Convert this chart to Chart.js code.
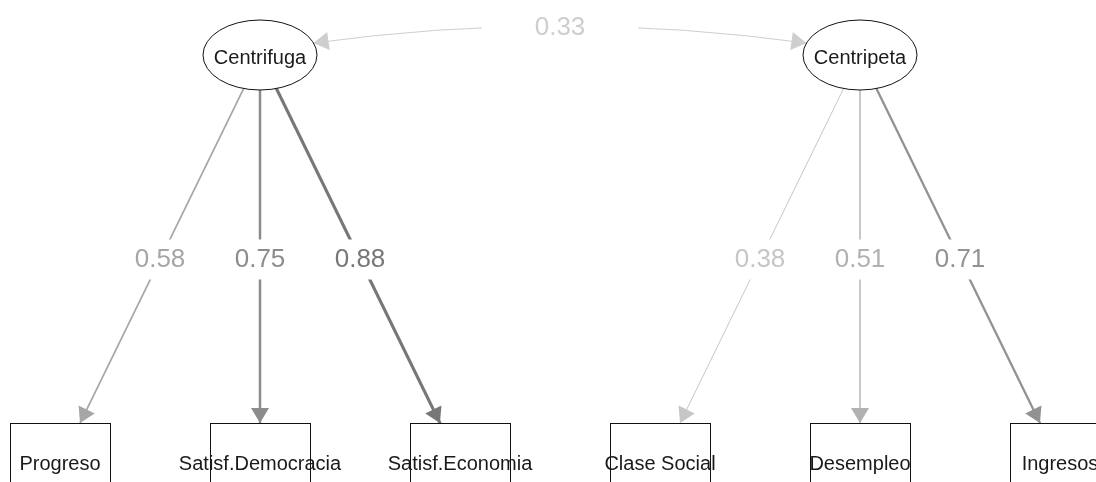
<!DOCTYPE html>
<html>
<head>
<meta charset="utf-8">
<script src="https://cdn.jsdelivr.net/npm/chart.js@4"></script>
<style>
  html, body { margin: 0; padding: 0; background: #fff; }
  canvas { display: block; }
</style>
</head>
<body>
<canvas id="semChart" width="1096" height="482"></canvas>
<script>
const latentNames = ['Centrifuga', 'Centripeta'];
const indicatorNames = ['Progreso', 'Satisf.Democracia', 'Satisf.Economia', 'Clase Social', 'Desempleo', 'Ingresos'];
const indicatorFactor = [0, 0, 0, 1, 1, 1];
const loadings = [0.58, 0.75, 0.88, 0.38, 0.51, 0.71];
const factorCovariance = 0.33;

// layout: indicators sit in slots along the bottom row, each factor above the middle of its own indicators
const indicatorX = indicatorNames.map((_, i) => i);
const latentX = latentNames.map((_, f) => {
  const xs = indicatorX.filter((_, i) => indicatorFactor[i] === f);
  return xs.reduce((a, b) => a + b, 0) / xs.length;
});
const LATENT_ROW = 0;
const INDICATOR_ROW = 1;

// stronger paths are darker and thicker
function edgeGrey(v) { const g = Math.round(258 - 158 * v); return 'rgb(' + g + ',' + g + ',' + g + ')'; }
function edgeWidth(v) { return Math.max(1, 4.5 * v - 0.9); }

const ELLIPSE_RX = 57, ELLIPSE_RY = 35;
const BOX_W = 100, BOX_H = 82;
const HEAD_LEN = 15, HEAD_HALF = 9;
const VALUE_FONT = '26px "Liberation Sans", Arial, sans-serif';
const NODE_FONT = '20px "Liberation Sans", Arial, sans-serif';

const datasets = loadings.map((v, i) => ({
  label: indicatorNames[i],
  data: [
    { x: latentX[indicatorFactor[i]], y: LATENT_ROW },
    { x: indicatorX[i], y: INDICATOR_ROW }
  ],
  showLine: true,
  borderColor: edgeGrey(v),
  borderWidth: edgeWidth(v),
  borderCapStyle: 'butt',
  pointRadius: 0
}));

function arrowHead(ctx, tipX, tipY, dx, dy, color) {
  const len = Math.hypot(dx, dy);
  const ux = dx / len, uy = dy / len;
  const bx = tipX - ux * HEAD_LEN, by = tipY - uy * HEAD_LEN;
  ctx.fillStyle = color;
  ctx.beginPath();
  ctx.moveTo(tipX, tipY);
  ctx.lineTo(bx - uy * HEAD_HALF, by + ux * HEAD_HALF);
  ctx.lineTo(bx + uy * HEAD_HALF, by - ux * HEAD_HALF);
  ctx.closePath();
  ctx.fill();
}

function valueLabel(ctx, text, x, y, color, bgWidth) {
  ctx.font = VALUE_FONT;
  const w = bgWidth || ctx.measureText(text).width + 6;
  ctx.fillStyle = '#fff';
  ctx.fillRect(x - w / 2, y - 20, w, 40);
  ctx.fillStyle = color;
  ctx.textAlign = 'center';
  ctx.textBaseline = 'middle';
  ctx.fillText(text, x, y);
}

const pathDiagram = {
  id: 'pathDiagram',
  afterDatasetsDraw(chart) {
    const ctx = chart.ctx;
    const xs = chart.scales.x, ys = chart.scales.y;
    const lat = latentX.map(x => ({ x: xs.getPixelForValue(x), y: ys.getPixelForValue(LATENT_ROW) }));
    const ind = indicatorX.map(x => ({ x: xs.getPixelForValue(x), y: ys.getPixelForValue(INDICATOR_ROW) }));
    ctx.save();

    // covariance between the two factors
    const a0 = -20 * Math.PI / 180, a1 = 200 * Math.PI / 180;
    const s = { x: lat[0].x + ELLIPSE_RX * Math.cos(a0), y: lat[0].y + ELLIPSE_RY * Math.sin(a0) };
    const e = { x: lat[1].x + ELLIPSE_RX * Math.cos(a1), y: lat[1].y + ELLIPSE_RY * Math.sin(a1) };
    const c = { x: (s.x + e.x) / 2, y: lat[0].y - 46 };
    const covColor = edgeGrey(factorCovariance);
    ctx.strokeStyle = covColor;
    ctx.lineWidth = edgeWidth(factorCovariance);
    ctx.beginPath();
    ctx.moveTo(s.x, s.y);
    ctx.quadraticCurveTo(c.x, c.y, e.x, e.y);
    ctx.stroke();
    arrowHead(ctx, s.x, s.y, s.x - c.x, s.y - c.y, covColor);
    arrowHead(ctx, e.x, e.y, e.x - c.x, e.y - c.y, covColor);
    valueLabel(ctx, factorCovariance.toFixed(2), 0.25 * s.x + 0.5 * c.x + 0.25 * e.x,
      0.25 * s.y + 0.5 * c.y + 0.25 * e.y + 2, covColor, 156);

    // loading labels halfway along each path
    loadings.forEach((v, i) => {
      const p0 = lat[indicatorFactor[i]], p1 = ind[i];
      valueLabel(ctx, v.toFixed(2), (p0.x + p1.x) / 2, (p0.y + p1.y) / 2, edgeGrey(v));
    });

    // factor ellipses
    ctx.lineWidth = 1;
    ctx.strokeStyle = '#111';
    lat.forEach(p => {
      ctx.beginPath();
      ctx.ellipse(p.x, p.y, ELLIPSE_RX, ELLIPSE_RY, 0, 0, Math.PI * 2);
      ctx.fillStyle = '#fff';
      ctx.fill();
      ctx.stroke();
    });

    // indicator boxes
    ind.forEach(p => {
      ctx.fillStyle = '#fff';
      ctx.fillRect(p.x - BOX_W / 2, p.y - BOX_H / 2, BOX_W, BOX_H);
      ctx.strokeRect(p.x - BOX_W / 2 + 0.5, p.y - BOX_H / 2 + 0.5, BOX_W, BOX_H);
    });

    // arrowheads where each path meets the top of its box
    loadings.forEach((v, i) => {
      const p0 = lat[indicatorFactor[i]], p1 = ind[i];
      const t = (p1.y - BOX_H / 2 - p0.y) / (p1.y - p0.y);
      const tx = p0.x + t * (p1.x - p0.x), ty = p0.y + t * (p1.y - p0.y);
      arrowHead(ctx, tx, ty, p1.x - p0.x, p1.y - p0.y, edgeGrey(v));
    });

    // node names
    ctx.font = NODE_FONT;
    ctx.fillStyle = '#1a1a1a';
    ctx.textAlign = 'center';
    ctx.textBaseline = 'middle';
    lat.forEach((p, f) => ctx.fillText(latentNames[f], p.x, p.y + 3));
    ind.forEach((p, i) => ctx.fillText(indicatorNames[i], p.x, p.y));

    ctx.restore();
  }
};

new Chart(document.getElementById('semChart'), {
  type: 'scatter',
  data: { datasets: datasets },
  options: {
    responsive: false,
    animation: false,
    devicePixelRatio: 1,
    layout: { padding: 0 },
    plugins: {
      legend: { display: false },
      tooltip: { enabled: false }
    },
    scales: {
      x: { type: 'linear', min: -0.3, max: 5.18, display: false },
      y: { type: 'linear', min: -0.1345, max: 1.044, reverse: true, display: false }
    }
  },
  plugins: [pathDiagram]
});
</script>
</body>
</html>
